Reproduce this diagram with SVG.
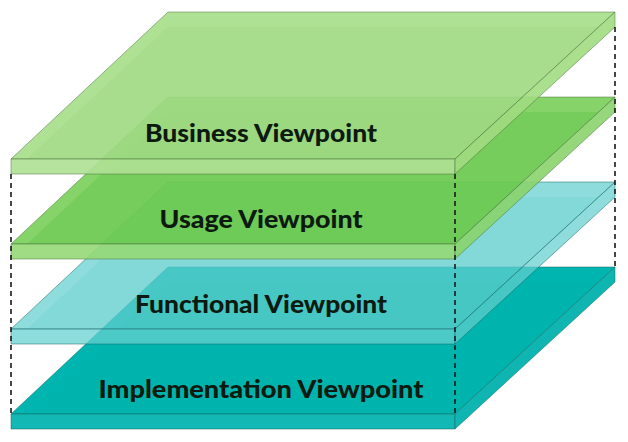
<svg xmlns="http://www.w3.org/2000/svg" width="628" height="442" viewBox="0 0 628 442">
<style>
  .lbl { font-family: Lato, "Open Sans", "Liberation Sans", sans-serif; font-weight: 900; font-size: 24px; fill: #0c1a10; text-anchor: middle; }
  .eg { stroke: rgba(70,110,60,0.55); stroke-width: 0.9; stroke-linejoin: round; }
  .et { stroke: rgba(20,100,100,0.55); stroke-width: 0.9; stroke-linejoin: round; }
  .b-top { fill: #a6de89; fill-opacity: 0.9; }
  .b-in { fill: #6fc24f; fill-opacity: 0.11; stroke: none; }
  .b-front { fill: #aee195; fill-opacity: 0.9; }
  .b-side { fill: #a1db81; fill-opacity: 0.9; }
  .u-top { fill: #79ce59; fill-opacity: 0.9; }
  .u-in { fill: #46b928; fill-opacity: 0.22; stroke: none; }
  .u-front { fill: #95d876; fill-opacity: 0.9; }
  .u-side { fill: #8ad36b; fill-opacity: 0.9; }
  .f-top { fill: #62cfcd; fill-opacity: 0.72; }
  .f-in { fill: #48c8c6; fill-opacity: 0.15; stroke: none; }
  .f-front { fill: #66d2d0; fill-opacity: 0.75; }
  .f-side { fill: #62cfcd; fill-opacity: 0.72; }
  .i-top { fill: #00b5b0; }
  .i-in { fill: #00aaa5; fill-opacity: 0.12; stroke: none; }
  .i-front { fill: #12b8b3; }
  .i-side { fill: #0fb6b1; }
  .dash { stroke: #1a1a1a; stroke-width: 1.6; stroke-dasharray: 5 4; fill: none; }
</style>

<g id="implementation">
  <polygon class="i-top et" points="168,267 615,267 455,414 11,414"/>
  <polygon class="i-in" points="168,282 598.7,282 455,414 27,414"/>
  <rect class="i-front et" x="11" y="414" width="444" height="15"/>
  <polygon class="i-side et" points="455,414 615,267 615,282 455,429"/>
  <text class="lbl" x="261" y="398" textLength="325" lengthAdjust="spacingAndGlyphs">Implementation Viewpoint</text>
</g>

<g id="functional">
  <polygon class="f-top et" points="168,182 615,182 455,329 11,329"/>
  <polygon class="f-in" points="168,197 598.7,197 455,329 27,329"/>
  <rect class="f-front et" x="11" y="329" width="444" height="15"/>
  <polygon class="f-side et" points="455,329 615,182 615,197 455,344"/>
  <text class="lbl" x="261" y="313" textLength="252" lengthAdjust="spacingAndGlyphs">Functional Viewpoint</text>
</g>

<g id="usage">
  <polygon class="u-top eg" points="168,97 615,97 455,244 11,244"/>
  <polygon class="u-in" points="168,112 598.7,112 455,244 27,244"/>
  <rect class="u-front eg" x="11" y="244" width="444" height="15"/>
  <polygon class="u-side eg" points="455,244 615,97 615,112 455,259"/>
  <text class="lbl" x="261" y="228" textLength="203" lengthAdjust="spacingAndGlyphs">Usage Viewpoint</text>
</g>

<g id="business">
  <polygon class="b-top eg" points="168,12 615,12 455,159 11,159"/>
  <polygon class="b-in" points="168,27 598.7,27 455,159 27,159"/>
  <rect class="b-front eg" x="11" y="159" width="444" height="15"/>
  <polygon class="b-side eg" points="455,159 615,12 615,27 455,174"/>
  <text class="lbl" x="261" y="142" textLength="232" lengthAdjust="spacingAndGlyphs">Business Viewpoint</text>
</g>

<g id="connectors">
  <line class="dash" x1="11" y1="174" x2="11" y2="414"/>
  <line class="dash" x1="455" y1="174" x2="455" y2="414"/>
  <line class="dash" x1="615" y1="27" x2="615" y2="267"/>
</g>
</svg>
